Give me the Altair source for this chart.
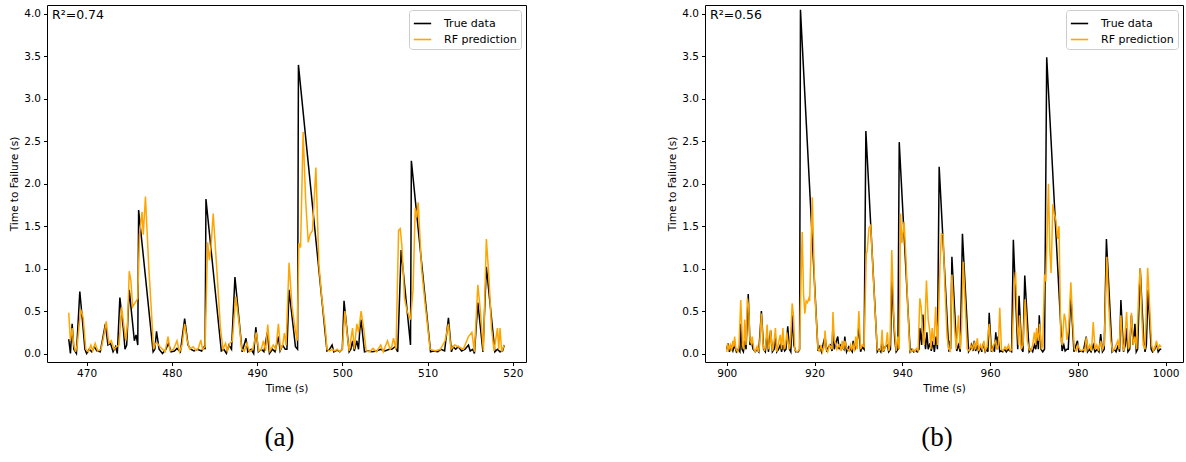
import altair as alt
import pandas as pd

# ---------------- Panel (a) ----------------
a_true_t = [467.9, 468.1, 468.3, 468.5, 468.8, 469.2, 469.5, 469.8, 470.0, 470.3, 470.6, 470.9, 471.2, 471.6,
            472.2, 472.5, 472.8, 473.1, 473.4, 473.6, 473.9, 474.3, 474.5, 474.7, 475.0, 475.3, 475.6, 475.8,
            476.0, 476.1, 477.8, 478.0, 478.2, 478.5, 478.9, 479.3, 479.6, 479.9, 480.3, 480.6, 481.0, 481.5,
            481.9, 482.2, 482.6, 483.0, 483.5, 483.8, 483.9, 484.0, 485.8, 486.1, 486.4, 486.7, 487.0, 487.4,
            488.25, 488.7, 488.9, 489.3, 489.6, 489.85, 490.15, 490.5, 490.8, 491.2, 491.45, 491.8, 492.1,
            492.5, 492.7, 493.0, 493.3, 493.5, 493.75, 494.5, 494.75, 494.85, 498.2, 498.5, 498.8, 499.0,
            499.4, 499.7, 500.0, 500.2, 500.8, 501.0, 501.2, 501.4, 501.7, 501.9, 502.05, 502.2, 502.6,
            503.0, 503.5, 504.0, 504.5, 505.0, 505.5, 505.8, 506.2, 506.5, 506.9, 508.0, 508.1, 510.35,
            510.7, 511.2, 511.6, 512.0, 512.45, 512.8, 513.0, 513.3, 513.6, 514.0, 514.4, 514.8, 515.0,
            515.3, 515.5, 515.9, 516.5, 516.9, 517.9, 518.2, 518.5, 518.8, 519.0]
a_true_v = [0.17, 0.0, 0.35, 0.05, 0.0, 0.73, 0.40, 0.05, 0.0, 0.05, 0.02, 0.08, 0.03, 0.02,
            0.35, 0.10, 0.12, 0.02, 0.08, 0.0, 0.66, 0.30, 0.05, 0.10, 0.75, 0.45, 0.15, 0.22,
            0.10, 1.69, 0.02, 0.05, 0.26, 0.05, 0.0, 0.05, 0.12, 0.02, 0.03, 0.06, 0.02, 0.41,
            0.10, 0.05, 0.03, 0.05, 0.03, 0.08, 0.05, 1.82, 0.03, 0.05, 0.0, 0.10, 0.05, 0.90,
            0.02, 0.18, 0.02, 0.05, 0.0, 0.31, 0.02, 0.05, 0.02, 0.25, 0.0, 0.05, 0.02,
            0.20, 0.03, 0.10, 0.05, 0.05, 0.75, 0.08, 0.05, 3.40, 0.03, 0.05, 0.10, 0.02,
            0.04, 0.02, 0.05, 0.62, 0.02, 0.05, 0.15, 0.03, 0.15, 0.05, 0.28, 0.40, 0.02,
            0.03, 0.02, 0.03, 0.05, 0.03, 0.05, 0.05, 0.08, 0.02, 1.22, 0.10, 2.27, 0.02,
            0.03, 0.02, 0.05, 0.03, 0.42, 0.02, 0.08, 0.05, 0.08, 0.03, 0.05, 0.10, 0.03,
            0.05, 0.0, 0.60, 0.02, 1.02, 0.02, 0.05, 0.02, 0.03, 0.10]

a_pred_t = [467.9, 468.1, 468.3, 468.5, 468.7, 468.9, 469.3, 469.6, 469.9, 470.2, 470.5, 470.7, 471.0, 471.3,
            471.7, 472.0, 472.3, 472.6, 472.9, 473.2, 473.5, 473.8, 474.1, 474.4, 474.6, 474.8, 475.0, 475.2,
            475.4, 475.7, 476.0, 476.2, 476.5, 476.65, 476.9, 477.3, 477.6, 477.85, 478.1, 478.3, 478.6,
            478.9, 479.2, 479.55, 479.8, 480.2, 480.6, 480.9, 481.2, 481.5, 481.8, 482.1, 482.5, 482.8,
            483.1, 483.4, 483.6, 483.9, 484.2, 484.4, 484.6, 484.85, 485.3, 485.7, 486.0, 486.3, 486.5,
            486.8, 487.1, 487.5, 487.9, 488.2, 488.5, 488.8, 489.1, 489.5, 489.9, 490.2, 490.5, 490.75,
            491.0, 491.25, 491.5, 491.9, 492.2, 492.5, 492.75, 493.0, 493.2, 493.4, 493.75, 494.1, 494.45,
            494.7, 494.9, 495.1, 495.4, 495.7, 496.0, 496.2, 496.5, 496.9, 497.25, 497.6, 498.0, 498.2,
            498.5, 498.8, 499.1, 499.4, 499.7, 500.0, 500.3, 500.6, 500.8, 501.2, 501.4, 501.7, 501.9,
            502.2, 502.5, 502.8, 503.2, 503.6, 504.0, 504.5, 504.8, 505.3, 505.6, 505.8, 506.0, 506.3,
            506.6, 506.8, 507.0, 507.3, 507.6, 508.0, 508.3, 508.55, 508.7, 508.9, 509.3, 509.7, 510.3,
            510.9, 511.5, 512.05, 512.45, 512.75, 513.2, 513.6, 514.2, 514.8, 515.2, 515.5, 515.9, 516.2,
            516.55, 516.9, 517.2, 517.5, 517.8, 518.2, 518.35, 518.5, 518.7, 519.0]
a_pred_v = [0.48, 0.15, 0.30, 0.10, 0.02, 0.10, 0.52, 0.42, 0.05, 0.02, 0.10, 0.03, 0.12, 0.03,
            0.05, 0.20, 0.38, 0.12, 0.15, 0.05, 0.08, 0.10, 0.55, 0.30, 0.15, 0.35, 0.97, 0.85,
            0.55, 0.60, 0.65, 1.40, 1.67, 1.40, 1.85, 1.00, 0.50, 0.05, 0.12, 0.12, 0.08,
            0.05, 0.02, 0.20, 0.03, 0.05, 0.15, 0.02, 0.10, 0.35, 0.15, 0.05, 0.08, 0.04,
            0.06, 0.16, 0.05, 0.08, 1.31, 1.10, 1.27, 1.65, 0.95, 0.30, 0.05, 0.12, 0.03,
            0.12, 0.15, 0.67, 0.35, 0.05, 0.03, 0.12, 0.02, 0.05, 0.25, 0.03, 0.05, 0.15,
            0.03, 0.34, 0.03, 0.10, 0.05, 0.35, 0.05, 0.10, 0.24, 0.10, 1.07, 0.55, 0.30,
            0.15, 1.30, 1.25, 2.61, 1.80, 1.31, 1.40, 1.45, 2.19, 1.05, 0.65, 0.30, 0.05,
            0.03, 0.05, 0.03, 0.05, 0.02, 0.05, 0.50, 0.20, 0.03, 0.30, 0.05, 0.35, 0.25,
            0.50, 0.30, 0.03, 0.02, 0.06, 0.02, 0.10, 0.02, 0.15, 0.05, 0.08, 0.18, 0.05,
            1.45, 1.47, 1.25, 0.65, 0.50, 0.40, 0.75, 1.71, 1.60, 1.78, 1.00, 0.60, 0.05,
            0.03, 0.05, 0.15, 0.35, 0.05, 0.10, 0.08, 0.05, 0.20, 0.25, 0.02, 0.81, 0.50,
            0.03, 1.35, 0.90, 0.30, 0.03, 0.30, 0.05, 0.30, 0.02, 0.10]

# ---------------- Panel (b) ----------------
b_true_t = [900.0, 900.3, 900.6, 901.0, 901.4, 901.8, 902.2, 902.6, 903.0, 903.2, 903.5, 903.8, 904.1, 904.4,
            904.9, 905.3, 905.6, 906.0, 906.5, 906.9, 907.3, 907.9, 908.4, 908.8, 909.2, 909.5, 910.0, 910.4,
            910.8, 911.1, 911.4, 911.8, 912.2, 912.5, 912.8, 913.2, 913.5, 913.9, 914.3, 914.6, 914.9, 915.3,
            915.7, 916.3, 916.6, 916.8, 920.8, 921.2, 921.6, 922.0, 922.4, 922.8, 923.2, 923.6, 924.0, 924.2,
            924.5, 925.0, 925.3, 925.6, 926.0, 926.3, 926.7, 926.9, 927.3, 927.8, 928.2, 928.6, 928.8, 929.2,
            929.6, 930.1, 930.5, 930.9, 931.3, 931.7, 934.3, 934.7, 935.1, 935.4, 935.7, 936.1, 936.6, 936.9,
            937.3, 937.6, 938.3, 938.6, 939.0, 939.3, 941.8, 942.2, 942.6, 943.0, 943.4, 943.8, 944.0, 944.4,
            944.7, 945.0, 945.3, 945.6, 945.9, 946.3, 946.6, 947.0, 947.3, 947.7, 948.0, 948.4, 950.6, 950.8,
            951.0, 951.3, 952.4, 952.8, 953.2, 953.7, 955.1, 955.5, 955.8, 956.1, 956.4, 956.7, 957.1, 957.4,
            957.8, 958.1, 958.5, 958.9, 959.3, 959.5, 959.8, 960.3, 960.7, 961.0, 961.3, 961.6, 961.8, 962.2,
            962.5, 962.9, 963.3, 963.7, 964.1, 964.5, 964.9, 965.3, 966.3, 966.6, 967.2, 967.5, 967.9, 968.9,
            969.3, 969.7, 970.1, 970.4, 970.8, 971.0, 971.2, 971.6, 972.0, 972.4, 972.9, 976.4, 976.8, 977.1,
            977.5, 977.8, 978.4, 979.1, 979.9, 980.2, 980.7, 981.2, 981.9, 982.2, 982.6, 983.0, 983.5, 983.9,
            984.4, 984.8, 985.2, 985.6, 986.0, 986.5, 987.8, 988.3, 988.7, 989.2, 989.5, 989.8, 990.4, 990.8,
            991.1, 991.4, 991.8, 992.2, 992.6, 993.0, 993.3, 993.6, 994.2, 995.0, 995.3, 995.6, 996.0, 996.7,
            997.0, 997.5, 997.9, 998.3, 998.7, 999.0]
b_true_v = [0.05, 0.12, 0.02, 0.08, 0.03, 0.10, 0.02, 0.05, 0.02, 0.35, 0.05, 0.02, 0.15, 0.05,
            0.70, 0.10, 0.15, 0.05, 0.02, 0.05, 0.02, 0.50, 0.05, 0.02, 0.25, 0.02, 0.27, 0.02,
            0.05, 0.20, 0.02, 0.05, 0.10, 0.02, 0.10, 0.03, 0.05, 0.32, 0.05, 0.02, 0.45, 0.10,
            0.02, 0.02, 0.05, 4.05, 0.03, 0.08, 0.02, 0.12, 0.20, 0.02, 0.08, 0.10, 0.03, 0.35,
            0.05, 0.15, 0.20, 0.05, 0.10, 0.08, 0.05, 0.20, 0.02, 0.08, 0.05, 0.02, 0.15, 0.05,
            0.10, 0.30, 0.02, 0.08, 0.05, 2.62, 0.02, 0.05, 0.02, 0.15, 0.02, 0.08, 0.10, 0.02,
            0.05, 0.85, 0.15, 0.02, 0.05, 2.49, 0.02, 0.05, 0.02, 0.04, 0.02, 0.05, 0.30, 0.10,
            0.46, 0.20, 0.05, 0.25, 0.05, 0.12, 0.03, 0.15, 0.02, 0.20, 0.05, 2.20, 0.02, 0.15,
            0.05, 1.14, 0.03, 0.10, 0.02, 1.41, 0.02, 0.05, 0.10, 0.03, 0.15, 0.03, 0.10, 0.02,
            0.08, 0.02, 0.12, 0.02, 0.05, 0.02, 0.48, 0.02, 0.08, 0.02, 0.25, 0.05, 0.20, 0.02,
            0.03, 0.02, 0.05, 0.02, 0.05, 0.03, 0.02, 1.34, 0.05, 0.68, 0.05, 0.02, 0.92, 0.02,
            0.05, 0.02, 0.10, 0.05, 0.20, 0.05, 0.45, 0.05, 0.02, 0.05, 3.49, 0.03, 0.10, 0.03,
            0.05, 0.05, 0.68, 0.02, 0.15, 0.02, 0.03, 0.02, 0.20, 0.02, 0.05, 0.02, 0.10, 0.02,
            0.05, 0.02, 0.23, 0.02, 0.05, 1.35, 0.02, 0.05, 0.02, 0.10, 0.02, 0.63, 0.02, 0.10,
            0.30, 0.02, 0.05, 0.45, 0.10, 0.35, 0.02, 0.05, 1.00, 0.15, 0.02, 0.10, 0.75, 0.05,
            0.02, 0.05, 0.12, 0.02, 0.05, 0.05]

b_pred_t = [900.0, 900.2, 900.5, 900.8, 901.1, 901.4, 901.6, 901.8, 902.1, 902.5, 902.8, 903.2, 903.6, 903.9,
            904.1, 904.4, 904.7, 905.0, 905.3, 905.6, 905.8, 906.2, 906.5, 906.9, 907.2, 907.5, 907.9, 908.3,
            908.6, 908.9, 909.2, 909.5, 909.8, 910.0, 910.4, 910.7, 911.1, 911.4, 911.7, 912.2, 912.5, 912.8,
            913.1, 913.4, 913.7, 914.0, 914.3, 914.6, 914.9, 915.2, 915.5, 915.9, 916.3, 916.6, 916.9, 917.2,
            917.5, 917.8, 918.1, 918.4, 918.7, 918.9, 919.5, 920.0, 920.3, 920.8, 921.1, 921.5, 921.8, 922.2,
            922.4, 922.7, 923.0, 923.4, 923.7, 924.0, 924.2, 924.5, 924.8, 925.1, 925.5, 925.8, 926.1, 926.3,
            926.6, 926.9, 927.2, 927.5, 927.9, 928.2, 928.5, 928.8, 929.1, 929.4, 929.7, 930.1, 930.5, 930.9,
            931.3, 931.8, 932.0, 932.4, 932.8, 933.3, 933.8, 934.3, 934.7, 935.1, 935.4, 935.6, 935.9, 936.3,
            936.6, 936.9, 937.2, 937.6, 938.1, 938.6, 939.0, 939.3, 939.6, 939.9, 940.4, 940.8, 941.2, 941.7,
            942.0, 942.4, 942.8, 943.2, 943.6, 944.0, 944.3, 944.7, 945.0, 945.5, 945.9, 946.3, 946.5, 946.8,
            947.2, 947.6, 948.0, 948.3, 948.6, 948.9, 949.3, 949.7, 950.2, 950.6, 950.9, 951.3, 951.9, 952.3,
            952.8, 953.2, 953.5, 953.9, 954.4, 954.8, 955.2, 955.6, 956.0, 956.4, 956.7, 957.1, 957.4, 957.8,
            958.2, 958.6, 958.9, 959.3, 959.8, 960.2, 960.5, 960.8, 961.3, 961.6, 961.9, 962.2, 962.6, 963.0,
            963.4, 963.8, 964.2, 964.6, 965.0, 965.5, 965.8, 966.2, 966.5, 966.7, 967.1, 967.5, 968.0, 968.5,
            968.9, 969.3, 969.7, 970.1, 970.4, 970.6, 971.0, 971.3, 971.7, 972.0, 972.4, 972.7, 973.3, 973.6,
            973.9, 974.3, 974.6, 975.0, 975.4, 975.7, 976.1, 976.4, 976.9, 977.2, 977.5, 977.9, 978.4, 978.8,
            979.2, 979.6, 980.0, 980.4, 980.8, 981.2, 981.6, 981.9, 982.3, 982.7, 983.1, 983.5, 983.9, 984.3,
            984.7, 985.2, 985.6, 986.0, 986.6, 987.0, 987.5, 987.9, 988.3, 988.7, 989.1, 989.4, 989.8, 990.2,
            990.5, 991.1, 991.5, 991.8, 992.2, 992.6, 993.0, 993.4, 993.9, 994.2, 994.6, 994.9, 995.3, 995.9,
            996.4, 996.8, 997.2, 997.6, 997.9, 998.3, 998.6, 999.0]
b_pred_v = [0.02, 0.12, 0.05, 0.10, 0.03, 0.15, 0.08, 0.20, 0.05, 0.02, 0.10, 0.63, 0.10, 0.05,
            0.40, 0.10, 0.65, 0.55, 0.15, 0.12, 0.20, 0.05, 0.02, 0.08, 0.02, 0.10, 0.47, 0.10,
            0.03, 0.10, 0.34, 0.05, 0.10, 0.28, 0.03, 0.10, 0.30, 0.02, 0.10, 0.22, 0.05, 0.30,
            0.05, 0.10, 0.25, 0.12, 0.05, 0.20, 0.59, 0.45, 0.05, 0.02, 0.03, 0.05, 0.82, 1.43,
            0.70, 0.47, 0.62, 0.60, 0.65, 0.62, 1.84, 0.80, 0.50, 0.05, 0.03, 0.10, 0.02, 0.08,
            0.27, 0.05, 0.02, 0.10, 0.08, 0.05, 0.49, 0.15, 0.12, 0.05, 0.10, 0.08, 0.03, 0.15,
            0.05, 0.15, 0.08, 0.05, 0.03, 0.10, 0.05, 0.10, 0.03, 0.20, 0.05, 0.50, 0.05, 0.10,
            0.08, 1.18, 1.20, 1.48, 1.51, 1.00, 0.50, 0.05, 0.03, 0.05, 0.28, 0.03, 0.05, 0.10,
            0.25, 0.03, 0.10, 1.22, 0.40, 0.03, 0.20, 0.05, 1.65, 1.30, 1.55, 1.16, 0.60, 0.05,
            0.02, 0.05, 0.02, 0.06, 0.03, 0.65, 0.55, 0.20, 0.10, 0.86, 0.40, 0.25, 0.05, 0.30,
            0.10, 0.55, 0.10, 0.50, 1.06, 1.41, 1.40, 0.80, 0.20, 0.05, 0.03, 0.93, 0.30, 0.05,
            0.45, 0.05, 0.30, 1.08, 0.50, 0.05, 0.03, 0.10, 0.05, 0.12, 0.05, 0.18, 0.03, 0.10,
            0.05, 0.15, 0.03, 0.08, 0.35, 0.05, 0.03, 0.10, 0.15, 0.05, 0.10, 0.54, 0.05, 0.03,
            0.08, 0.05, 0.10, 0.03, 0.05, 0.80, 0.96, 0.35, 0.10, 0.45, 0.05, 0.10, 0.64, 0.15,
            0.05, 0.03, 0.10, 0.25, 0.10, 0.30, 0.15, 0.35, 0.05, 0.10, 0.93, 0.85, 2.00, 1.22,
            0.95, 1.76, 1.65, 1.57, 1.35, 1.50, 0.20, 0.10, 0.47, 0.39, 0.16, 0.30, 0.84, 0.40,
            0.05, 0.03, 0.10, 0.05, 0.03, 0.05, 0.03, 0.19, 0.05, 0.10, 0.03, 0.37, 0.05, 0.10,
            0.03, 0.15, 0.05, 0.10, 1.14, 0.60, 0.15, 0.03, 0.05, 0.10, 0.15, 0.05, 0.45, 0.10,
            0.03, 0.49, 0.05, 0.10, 0.48, 0.10, 0.20, 0.05, 0.78, 1.00, 0.40, 0.10, 0.05, 1.01,
            0.50, 0.10, 0.03, 0.08, 0.15, 0.05, 0.10, 0.08]

series_names = ["True data", "RF prediction"]
series_colors = ["black", "orange"]
y_ticks = [0.0, 0.5, 1.0, 1.5, 2.0, 2.5, 3.0, 3.5, 4.0]
a_x_ticks = [470, 480, 490, 500, 510, 520]
b_x_ticks = [900, 920, 940, 960, 980, 1000]


def frame(ts, vs, name):
    return pd.DataFrame({"t": ts, "v": vs, "series": name})


def panel(true_t, true_v, pred_t, pred_v, xdom, xticks, r2, caption, width):
    color = alt.Color(
        "series:N",
        scale=alt.Scale(domain=series_names, range=series_colors),
        legend=alt.Legend(
            title=None, orient="top-right", offset=5, fillColor="white",
            strokeColor="#cccccc", cornerRadius=3, padding=4,
            symbolType="stroke", symbolStrokeWidth=1.6, symbolSize=300,
            labelFontSize=11, labelFont="DejaVu Sans", labelColor="black",
            rowPadding=1, labelOffset=12,
        ),
    )
    x = alt.X("t:Q", title="Time (s)",
              scale=alt.Scale(domain=xdom, nice=False, zero=False),
              axis=alt.Axis(values=xticks, format="d"))
    y = alt.Y("v:Q", title="Time to Failure (s)",
              scale=alt.Scale(domain=[-0.1, 4.106], nice=False, zero=False),
              axis=alt.Axis(values=y_ticks, format=".1f"))
    l_true = alt.Chart(frame(true_t, true_v, series_names[0])).mark_line(
        strokeWidth=1.5).encode(x=x, y=y, color=color)
    l_pred = alt.Chart(frame(pred_t, pred_v, series_names[1])).mark_line(
        strokeWidth=1.5).encode(x=x, y=y, color=color)
    txt = alt.Chart(pd.DataFrame({"label": [r2]})).mark_text(
        align="left", baseline="top", fontSize=12.5, font="DejaVu Sans", color="black"
    ).encode(text="label:N", x=alt.value(5), y=alt.value(4))
    return alt.layer(l_true, l_pred, txt).properties(
        width=width, height=357,
        title=alt.TitleParams(text=caption, orient="bottom", anchor="middle",
                              font="Liberation Serif", fontSize=27,
                              fontWeight="normal", color="black",
                              offset=31, frame="group", dx=-7),
    )


pa = panel(a_true_t, a_true_v, a_pred_t, a_pred_v, [465.35, 521.55], a_x_ticks,
           "R²=0.74", "(a)", 479)
pb = panel(b_true_t, b_true_v, b_pred_t, b_pred_v, [895.05, 1003.95], b_x_ticks,
           "R²=0.56", "(b)", 478)

chart = alt.hconcat(pa, pb, spacing=140).resolve_scale(
    color="independent"
).resolve_legend(
    color="independent"
).properties(
    padding={"left": 9, "top": 4, "right": 0, "bottom": 0},
    background="white",
).configure_view(
    stroke="black", strokeWidth=1
).configure_axis(
    domain=False, grid=False, ticks=True, tickColor="black", tickSize=3.5,
    labelFont="DejaVu Sans", labelFontSize=10.5, labelColor="black", labelPadding=3,
    titleFont="DejaVu Sans", titleFontSize=10.5, titleFontWeight="normal",
    titleColor="black", titlePadding=4,
)

chart.save("out.html", embed_options={"renderer": "svg", "actions": False})
